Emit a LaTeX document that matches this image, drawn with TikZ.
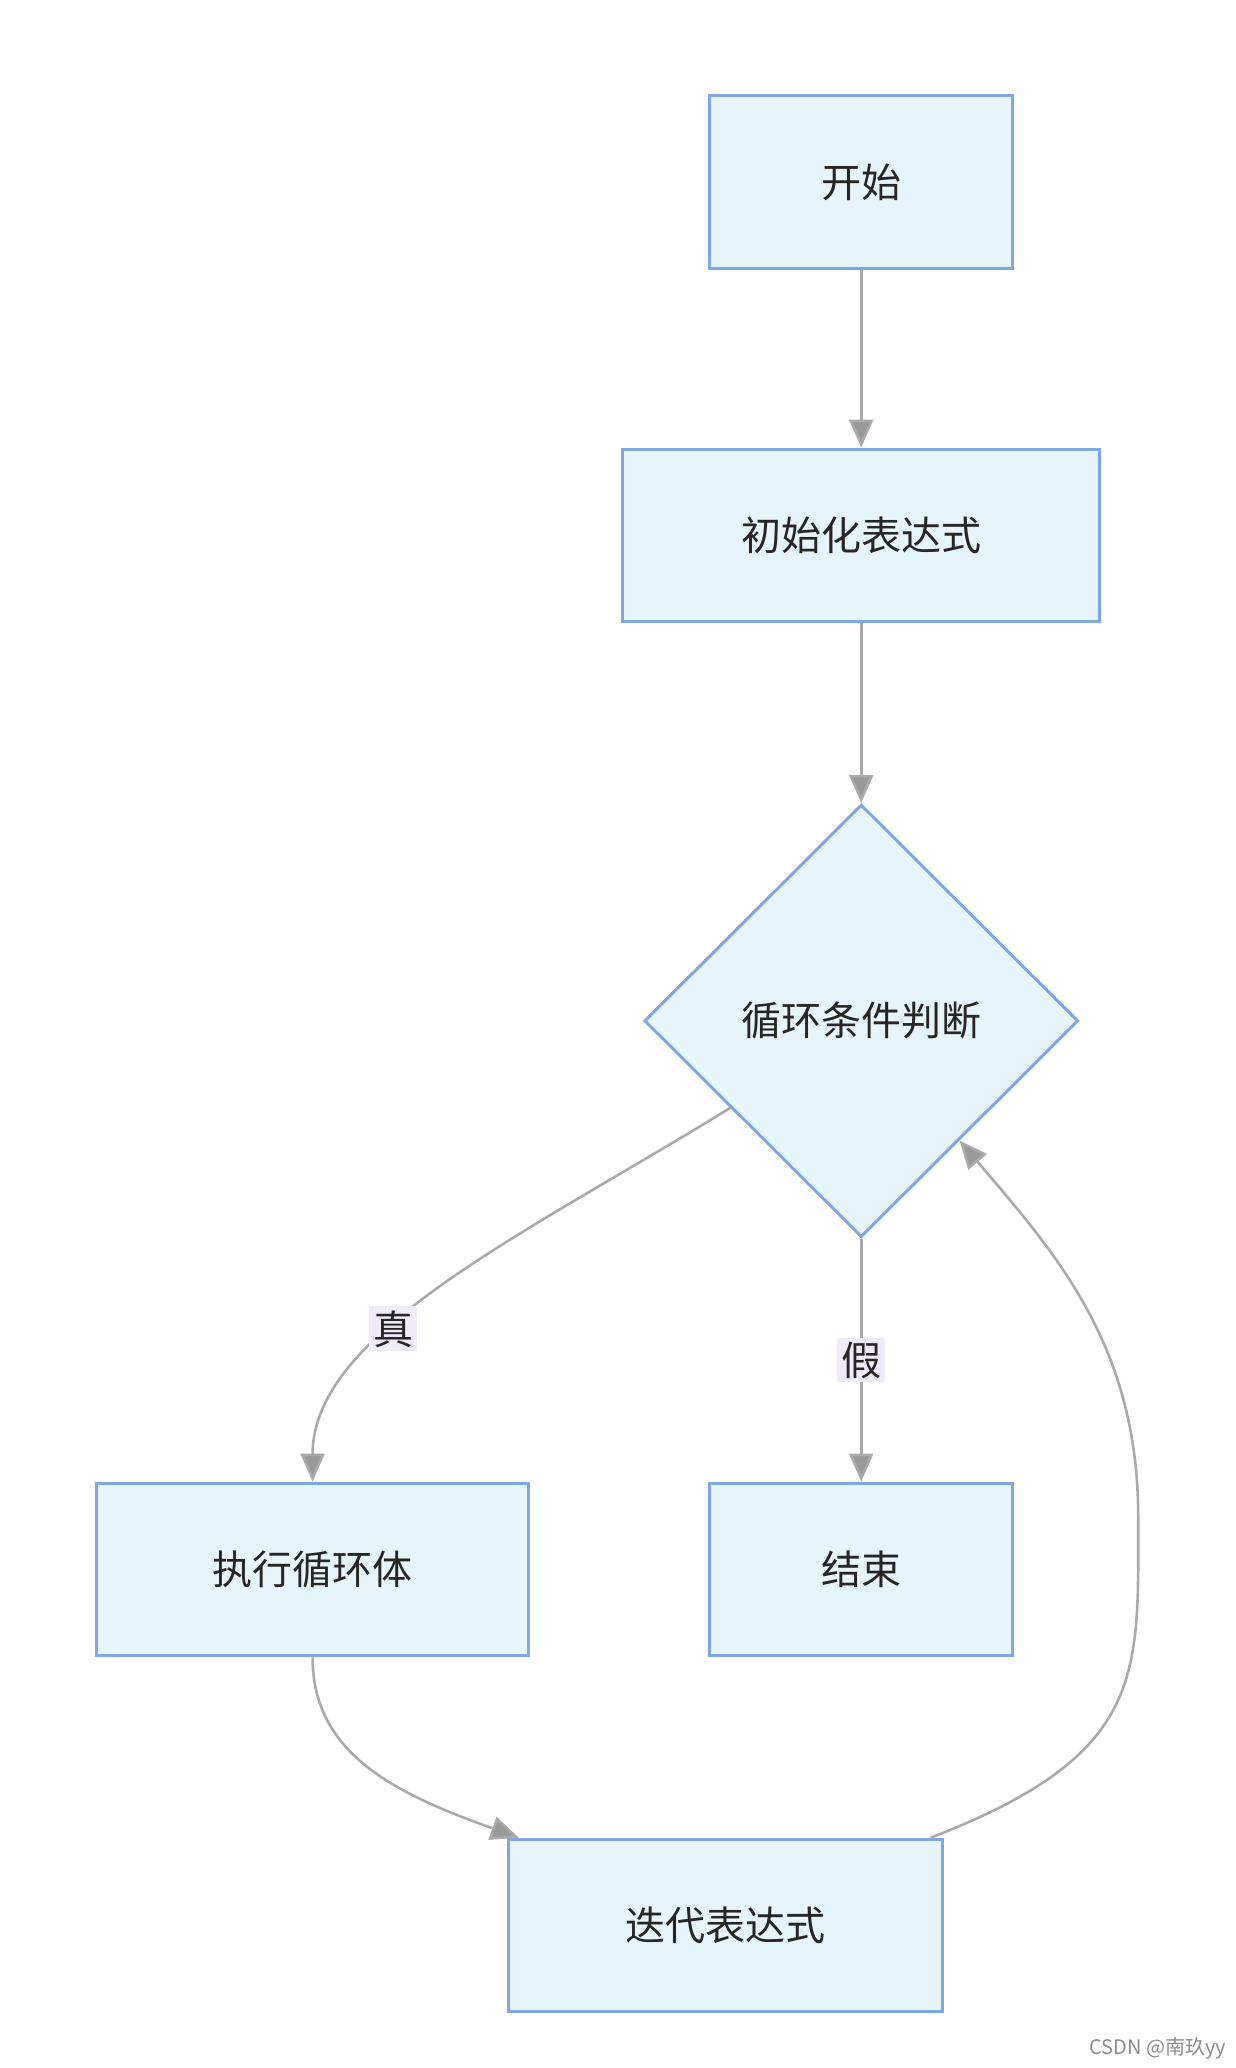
\documentclass[tikz,border=0pt]{standalone}
\usepackage{fontspec}
\newfontfamily\cjk{Noto Sans CJK SC}
\usetikzlibrary{shapes.geometric,arrows.meta,calc}
\definecolor{nfill}{HTML}{E6F4FC}
\definecolor{ndraw}{HTML}{7FA7E6}
\definecolor{edge}{HTML}{AAAAAA}
\definecolor{lbl}{HTML}{EFEBFB}
\begin{document}
\begin{tikzpicture}[x=0.6595pt,y=-0.6595pt,
  box/.style={draw=ndraw,fill=nfill,line width=1.5pt,font=\cjk\fontsize{20}{24}\selectfont,text=black!85,inner sep=0pt},
  dia/.style={diamond,draw=ndraw,fill=nfill,line width=1.5pt,font=\cjk\fontsize{20}{24}\selectfont,text=black!85,minimum width=329*0.6595pt,minimum height=328*0.6595pt,inner sep=0pt,aspect=1},
  conn/.style={draw=edge,line width=1.3pt,-{Triangle[length=14pt,width=12pt,fill=edge!90!black]}},
  lab/.style={fill=lbl,font=\cjk\fontsize{20}{24}\selectfont,text=black!85,inner sep=2pt}]
\useasboundingbox (0,0) rectangle (937,1568);
\node[box,minimum width=230*0.6595pt,minimum height=131*0.6595pt] (s) at (653,138) {开始};
\node[box,minimum width=362*0.6595pt,minimum height=131*0.6595pt] (i) at (653,406) {初始化表达式};
\node[dia] (d) at (653,774) {循环条件判断};
\node[box,minimum width=328*0.6595pt,minimum height=131*0.6595pt] (b) at (237,1190) {执行循环体};
\node[box,minimum width=230*0.6595pt,minimum height=131*0.6595pt] (e) at (653,1190) {结束};
\node[box,minimum width=329*0.6595pt,minimum height=131*0.6595pt] (t) at (550,1460) {迭代表达式};
\coordinate (dl) at ($(d.west)!0.4!(d.south)$);
\coordinate (dr) at ($(d.east)!0.55!(d.south)$);
\coordinate (tl) at ($(t.north west)+(9,0)$);
\coordinate (tr) at ($(t.north east)+(-10,0)$);
\draw[conn] (s) -- (i);
\draw[conn] (i) -- (d);
\draw[conn] (dl) .. controls (400,935) and (237,1010) .. (b.north) node[lab,pos=0.62] (lt) {真};
\draw[conn] (d.south) -- (e.north) node[lab,midway] (lf) {假};
\draw[conn] (b.south) .. controls (237,1330) and (300,1360) .. (tl);
\draw[conn] (tr) .. controls (870,1330) and (863,1270) .. (863,1150) .. controls (863,1020) and (800,950) .. (dr);
\node[font=\fontsize{10}{12}\selectfont\cjk,text=black!45,anchor=east] (w) at (935,1553) {CSDN @南玖yy};
\end{tikzpicture}
\end{document}
